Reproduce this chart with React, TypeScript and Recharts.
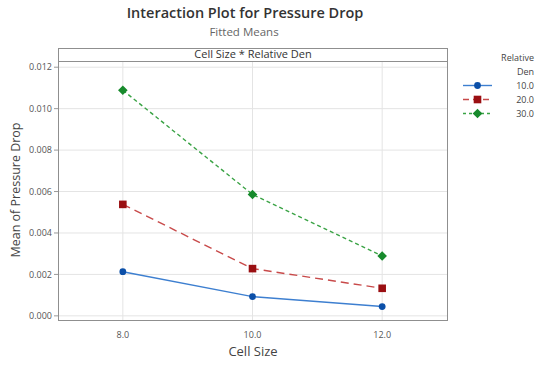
import { LineChart, Line, XAxis, YAxis, CartesianGrid } from "recharts";

const cellSizes = [8, 10, 12];
const den10 = [0.00213, 0.00093, 0.00045];
const den20 = [0.00538, 0.00228, 0.00133];
const den30 = [0.01089, 0.00586, 0.00289];
const xTicks = [8, 10, 12];
const yTicks = [0, 0.002, 0.004, 0.006, 0.008, 0.01, 0.012];
const legendLabels = ["10.0", "20.0", "30.0"];

const rows = cellSizes.map((c, i) => ({ cell: c, d10: den10[i], d20: den20[i], d30: den30[i] }));

const FONT = "'Open Sans', 'Noto Sans', sans-serif";

const circleDot = (props: any) => {
  const { cx, cy, key } = props;
  return <circle key={key} cx={cx} cy={cy} r={3.4} fill="#0b4fa8" stroke="none" />;
};
const squareDot = (props: any) => {
  const { cx, cy, key } = props;
  return <rect key={key} x={cx - 3.8} y={cy - 3.8} width={7.6} height={7.6} fill="#9a0f12" stroke="none" />;
};
const diamondDot = (props: any) => {
  const { cx, cy, key } = props;
  return (
    <path key={key} d={`M${cx},${cy - 4.8}L${cx + 4.8},${cy}L${cx},${cy + 4.8}L${cx - 4.8},${cy}Z`} fill="#178a2c" stroke="none" />
  );
};

const legendItems = [
  { label: legendLabels[0], line: "#3d7fd0", dash: undefined, marker: "circle", color: "#0b4fa8" },
  { label: legendLabels[1], line: "#c84a4a", dash: "6 4", marker: "square", color: "#9a0f12" },
  { label: legendLabels[2], line: "#3aa345", dash: "3 3", marker: "diamond", color: "#178a2c" },
];

export default function App() {
  return (
    <div style={{ position: "absolute", left: 0, top: 0, width: 538, height: 366, background: "#fff", fontFamily: FONT }}>
      <LineChart width={538} height={366} data={rows} margin={{ top: 61, right: 91, bottom: 0, left: 0 }}>
        <CartesianGrid stroke="#e4e4e4" strokeWidth={1} horizontalValues={yTicks} verticalValues={xTicks} />
        <XAxis
          dataKey="cell"
          type="number"
          domain={[7, 13]}
          ticks={xTicks}
          height={46}
          tickFormatter={(v: number) => v.toFixed(1)}
          tick={{ fontSize: 9, fill: "#555", fontFamily: FONT }}
          axisLine={false}
          tickLine={false}
          tickMargin={6}
        />
        <YAxis
          type="number"
          domain={[-0.0002, 0.0123]}
          ticks={yTicks}
          width={58}
          tickFormatter={(v: number) => v.toFixed(3)}
          tick={{ fontSize: 9, fill: "#555", fontFamily: FONT }}
          axisLine={false}
          tickLine={{ stroke: "#999" }}
          tickSize={4}
          allowDataOverflow
        />
        <Line dataKey="d10" stroke="#3d7fd0" strokeWidth={1.4} dot={circleDot} isAnimationActive={false} />
        <Line dataKey="d20" stroke="#c84a4a" strokeWidth={1.4} strokeDasharray="8 5" dot={squareDot} isAnimationActive={false} />
        <Line dataKey="d30" stroke="#3aa345" strokeWidth={1.4} strokeDasharray="4 3" dot={diamondDot} isAnimationActive={false} />
      </LineChart>

      {/* panel border and strip */}
      <div style={{ position: "absolute", left: 58, top: 48, width: 390, height: 273, border: "1.5px solid #8f8f8f", boxSizing: "border-box", pointerEvents: "none" }} />
      <div style={{ position: "absolute", left: 58, top: 48, width: 390, height: 14, borderBottom: "1.5px solid #8f8f8f", boxSizing: "border-box", fontSize: 11, color: "#333", textAlign: "center", lineHeight: "12px" }}>
        Cell Size * Relative Den
      </div>

      <div style={{ position: "absolute", left: 0, width: 490, top: 3, textAlign: "center", fontSize: 14.5, fontWeight: 600, color: "#333", lineHeight: "20px" }}>
        Interaction Plot for Pressure Drop
      </div>
      <div style={{ position: "absolute", left: 0, width: 488, top: 24, textAlign: "center", fontSize: 11.5, color: "#666", lineHeight: "15px" }}>
        Fitted Means
      </div>
      <div style={{ position: "absolute", left: 58, width: 390, top: 342, textAlign: "center", fontSize: 13, color: "#444" }}>
        Cell Size
      </div>
      <div style={{ position: "absolute", left: 15, top: 190, width: 0, height: 0 }}>
        <div style={{ position: "absolute", transform: "translate(-50%, -50%) rotate(-90deg)", whiteSpace: "nowrap", fontSize: 12.5, color: "#444" }}>
          Mean of Pressure Drop
        </div>
      </div>

      {/* legend */}
      <div style={{ position: "absolute", right: 4, top: 51, textAlign: "right", fontSize: 9, color: "#444", lineHeight: "14px" }}>
        <div>Relative</div>
        <div>Den</div>
      </div>
      {legendItems.map((it, i) => (
        <div key={it.label} style={{ position: "absolute", left: 462, top: 79 + i * 14, width: 74, height: 13 }}>
          <svg width={32} height={13} style={{ position: "absolute", left: 0, top: 0 }}>
            <line x1={1} y1={6.5} x2={30} y2={6.5} stroke={it.line} strokeWidth={1.4} strokeDasharray={it.dash} />
            {it.marker === "circle" && <circle cx={15.5} cy={6.5} r={3.4} fill={it.color} />}
            {it.marker === "square" && <rect x={11.7} y={2.7} width={7.6} height={7.6} fill={it.color} />}
            {it.marker === "diamond" && <path d="M15.5,1.7L20.3,6.5L15.5,11.3L10.7,6.5Z" fill={it.color} />}
          </svg>
          <div style={{ position: "absolute", right: 2, top: 0, fontSize: 9, color: "#444", lineHeight: "13px" }}>{it.label}</div>
        </div>
      ))}
    </div>
  );
}
